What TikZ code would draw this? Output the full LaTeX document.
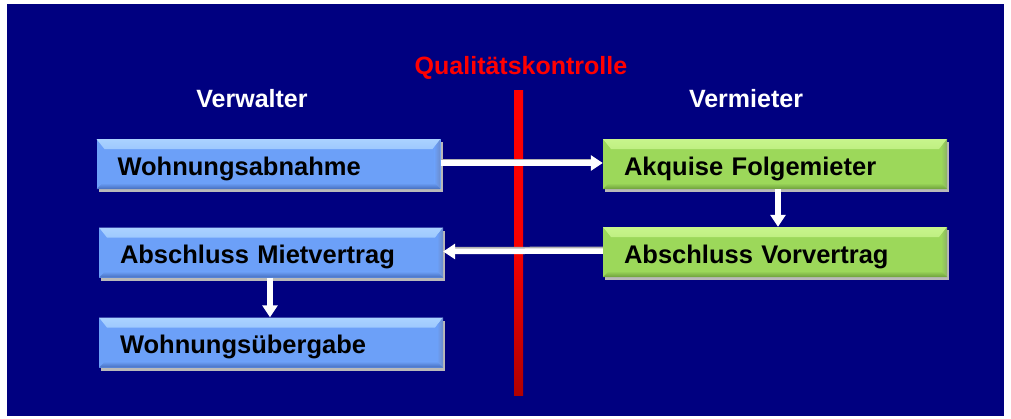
\documentclass[tikz,border=0pt]{standalone}
\usepackage{fontspec}
\setmainfont{Liberation Sans}
\usetikzlibrary{arrows.meta,shadows}
\definecolor{navy}{RGB}{0,0,128}
\definecolor{boxblue}{RGB}{108,160,248}
\definecolor{bluetop}{RGB}{170,210,255}
\definecolor{bluedark}{RGB}{70,110,190}
\definecolor{boxgreen}{RGB}{156,216,90}
\definecolor{greentop}{RGB}{200,245,140}
\definecolor{greendark}{RGB}{110,160,60}
\definecolor{redtop}{RGB}{255,0,0}
\definecolor{redbot}{RGB}{176,0,0}
\tikzset{
  boxbase/.style={minimum width=344pt, minimum height=50pt, text width=302pt,
    text height=22pt, text depth=0pt,
    align=left, inner xsep=21pt, inner ysep=0pt, anchor=center,
    font=\bfseries\fontsize{25.5}{28}\selectfont, text=black,
    drop shadow={shadow xshift=2pt, shadow yshift=-3pt, fill=gray!55, opacity=1}},
  bluebox/.style={boxbase, fill=boxblue,
    path picture={
      \shade[top color=bluetop, bottom color=boxblue]
        (path picture bounding box.north west) -- (path picture bounding box.north east)
        -- ([xshift=-8pt,yshift=-10pt]path picture bounding box.north east)
        -- ([xshift=8pt,yshift=-10pt]path picture bounding box.north west) -- cycle;
      \shade[left color=boxblue, right color=bluedark!80]
        (path picture bounding box.north east) -- (path picture bounding box.south east)
        -- ([xshift=-6pt,yshift=6pt]path picture bounding box.south east)
        -- ([xshift=-6pt,yshift=-8pt]path picture bounding box.north east) -- cycle;
      \shade[top color=boxblue, bottom color=bluedark]
        (path picture bounding box.south west) -- (path picture bounding box.south east)
        -- ([xshift=-6pt,yshift=6pt]path picture bounding box.south east)
        -- ([xshift=6pt,yshift=6pt]path picture bounding box.south west) -- cycle;
    }},
  greenbox/.style={boxbase, fill=boxgreen,
    path picture={
      \shade[top color=greentop, bottom color=boxgreen]
        (path picture bounding box.north west) -- (path picture bounding box.north east)
        -- ([xshift=-8pt,yshift=-10pt]path picture bounding box.north east)
        -- ([xshift=8pt,yshift=-10pt]path picture bounding box.north west) -- cycle;
      \shade[left color=boxgreen, right color=greendark!80]
        (path picture bounding box.north east) -- (path picture bounding box.south east)
        -- ([xshift=-6pt,yshift=6pt]path picture bounding box.south east)
        -- ([xshift=-6pt,yshift=-8pt]path picture bounding box.north east) -- cycle;
      \shade[top color=boxgreen, bottom color=greendark]
        (path picture bounding box.south west) -- (path picture bounding box.south east)
        -- ([xshift=-6pt,yshift=6pt]path picture bounding box.south east)
        -- ([xshift=6pt,yshift=6pt]path picture bounding box.south west) -- cycle;
    }},
  heading/.style={font=\bfseries\fontsize{25}{28}\selectfont, text=white, inner sep=0pt},
  flow/.style={draw=white, line width=5.5pt,
    -{Triangle[width=15pt,length=12pt]}},
  flowshadow/.style={draw=gray!60, line width=5pt}
}
\begin{document}
\begin{tikzpicture}[x=1pt,y=-1pt]
  \useasboundingbox (0,0) rectangle (1011,418);
  \fill[white] (0,0) rectangle (1011,418);
  \fill[navy] (7,4) rectangle (1004,416);
  % quality-control line
  \shade[top color=redtop, bottom color=redbot, middle color=redtop!90!redbot]
    (514,90) rectangle (523,395);
  \node[font=\bfseries\fontsize{25}{28}\selectfont, text=red, inner sep=0pt] (qk) at (521,68) {Qualitätskontrolle};
  \node[heading] (vw) at (252,99) {Verwalter};
  \node[heading] (vm) at (746,99) {Vermieter};
  % boxes
  \node[bluebox] (wa) at (268.5,164) {Wohnungsabnahme};
  \node[greenbox] (ak) at (775,164) {Akquise Folgemieter};
  \node[greenbox] (vv) at (775,252) {Abschluss Vorvertrag};
  \node[bluebox] (mv) at (271,252.5) {Abschluss Mietvertrag};
  \node[bluebox] (wu) at (271,342.5) {Wohnungsübergabe};
  % connectors
  \draw[flowshadow] ([yshift=3pt]wa.east) -- ([yshift=3pt,xshift=-10pt]ak.west);
  \draw[flow] ([yshift=1pt]wa.east) -- ([yshift=1pt]ak.west);
  \draw[flowshadow] ([yshift=3pt]vv.west) -- ([yshift=3pt,xshift=10pt]mv.east);
  \draw[flow] ([yshift=1pt]vv.west) -- ([yshift=1pt]mv.east);
  \draw[flow] ([xshift=3pt]ak.south) -- ([xshift=3pt]vv.north);
  \draw[flow] ([xshift=-1pt]mv.south) -- ([xshift=-1pt]wu.north);
\end{tikzpicture}
\end{document}
